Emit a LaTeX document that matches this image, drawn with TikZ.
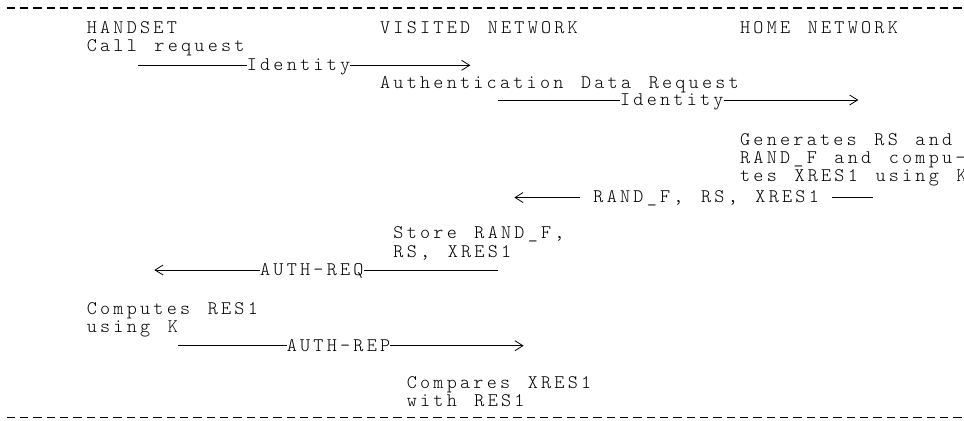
\documentclass[tikz,border=0pt]{standalone}
\usepackage{fontspec}
\newfontfamily\rfcfont[LetterSpace=16.9, WordSpace=1.3228]{lmmonolt10-regular.otf}
\usetikzlibrary{arrows.meta}

\begin{document}
\begin{tikzpicture}[x=13.333pt, y=-1pt]
  \tikzstyle{txt} = [anchor=base west, inner sep=0pt, xshift=1.6pt, font={\fontsize{19.2}{19.2}\rfcfont}]
  \tikzstyle{msg} = [line width=0.9pt]
  \tikzstyle{tip} = [msg, -{Straight Barb[length=8pt, width=10pt, line width=0.8pt]}]
  \tikzstyle{rule} = [line width=1.3pt, dash pattern=on 8.3pt off 5.03pt]
  \useasboundingbox (-0.375,0) rectangle (71.925,420);
  % dashed rules
  \coordinate (topL) at (0.13,8);
  \coordinate (topR) at (71.925,8);
  \coordinate (botL) at (0.13,417.5);
  \coordinate (botR) at (71.925,417.5);
  \draw[rule] (topL) -- (topR);
  \draw[rule] (botL) -- (botR);
  % header
  \node[txt] (handset) at (6,33.3) {HANDSET};
  \node[txt] (visited) at (28,33.3) {VISITED NETWORK};
  \node[txt] (home) at (55,33.3) {HOME NETWORK};
  \node[txt] (call) at (6,51.7) {Call request};
  % identity to visited network
  \coordinate (idAs) at (10,65.3);
  \coordinate (idAe) at (34.9,65.3);
  \node[txt] (idA) at (18,70.7) {Identity};
  \draw[msg] (idAs) -- (idAs -| idA.west);
  \draw[tip] (idAe -| idA.east) -- (idAe);
  \node[txt] (adr) at (28,88.3) {Authentication Data Request};
  % identity to home network
  \coordinate (idBs) at (37,100);
  \coordinate (idBe) at (64,100);
  \node[txt] (idB) at (46,105.4) {Identity};
  \draw[msg] (idBs) -- (idBs -| idB.west);
  \draw[tip] (idBe -| idB.east) -- (idBe);
  % home network
  \node[txt] (gen1) at (55,145) {Generates RS and};
  \node[txt] (gen2) at (55,163) {RAND\_F and compu-};
  \node[txt] (gen3) at (55,181) {tes XRES1 using K};
  \coordinate (randL) at (38.2,197.5);
  \coordinate (randR) at (65.1,197.5);
  \node[txt, inner xsep=13.333pt] (rand) at (43,202.9) {RAND\_F, RS, XRES1};
  \draw[tip] (randL -| rand.west) -- (randL);
  \draw[msg] (randR -| rand.east) -- (randR);
  % visited network
  \node[txt] (store1) at (29,238) {Store RAND\_F,};
  \node[txt] (store2) at (29,257.5) {RS, XRES1};
  \coordinate (reqL) at (11.2,270);
  \coordinate (reqR) at (37,270);
  \node[txt] (req) at (19,275.4) {AUTH-REQ};
  \draw[tip] (reqL -| req.west) -- (reqL);
  \draw[msg] (reqR -| req.east) -- (reqR);
  % handset
  \node[txt] (comp1) at (6,314.3) {Computes RES1};
  \node[txt] (comp2) at (6,332.7) {using K};
  \coordinate (repL) at (13,345.7);
  \coordinate (repR) at (38.9,345.7);
  \node[txt] (rep) at (21,351.1) {AUTH-REP};
  \draw[msg] (repL) -- (repL -| rep.west);
  \draw[tip] (repR -| rep.east) -- (repR);
  \node[txt] (cmp1) at (30,388.3) {Compares XRES1};
  \node[txt] (cmp2) at (30,406) {with RES1};
\end{tikzpicture}
\end{document}
